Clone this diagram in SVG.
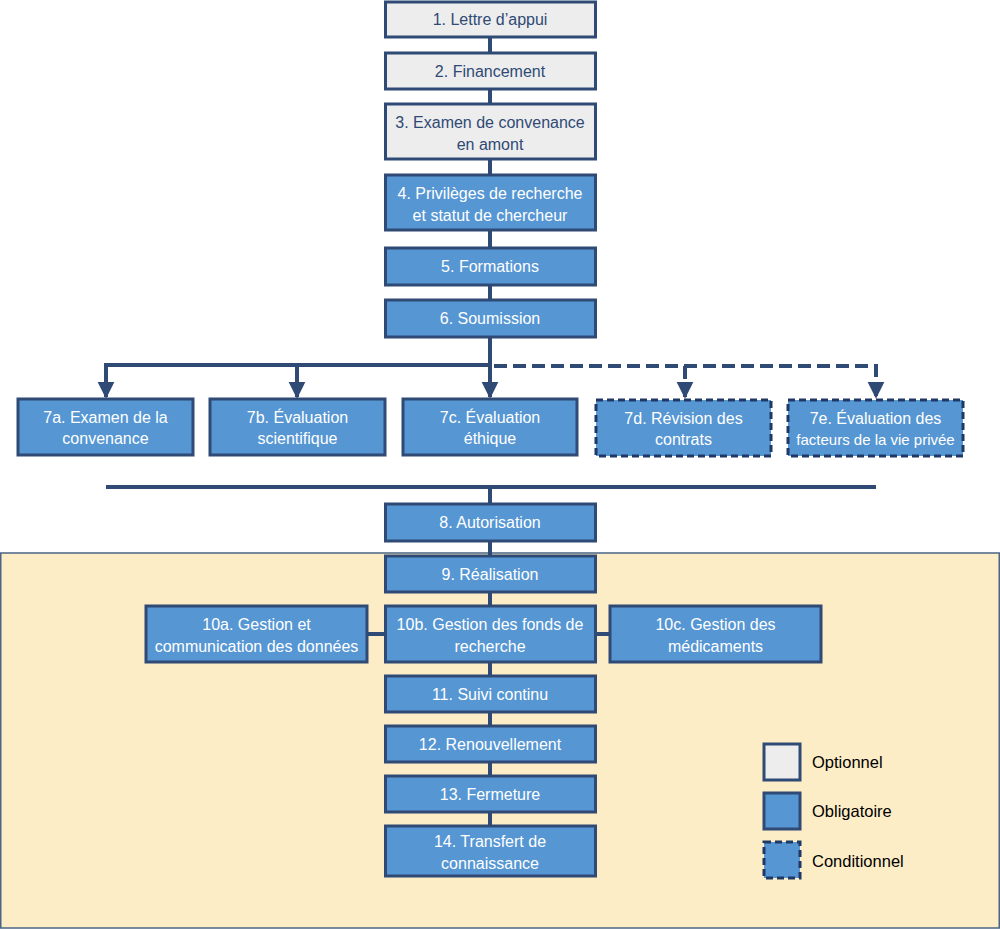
<svg xmlns="http://www.w3.org/2000/svg" width="1000" height="929" viewBox="0 0 1000 929">
<defs>
<style>
.opt{fill:#EDEDED;stroke:#2F4A75;stroke-width:3}
.obl{fill:#5696D3;stroke:#2F4A75;stroke-width:3}
.cond{fill:#5696D3;stroke:#1F3864;stroke-width:3;stroke-dasharray:7 4}
.t{font-family:"Liberation Sans",Arial,sans-serif;font-size:16px;text-anchor:middle;fill:#FFFFFF}
.to{font-family:"Liberation Sans",Arial,sans-serif;font-size:16px;text-anchor:middle;fill:#2F4A75}
.lg{font-family:"Liberation Sans",Arial,sans-serif;font-size:16.5px;fill:#000000}
.c{stroke:#2F4A75;stroke-width:4;fill:none}
.cd{stroke:#2F4A75;stroke-width:4;fill:none;stroke-dasharray:13 6}
</style>
<marker id="ah" viewBox="0 0 10 10" refX="9" refY="5" markerWidth="4.2" markerHeight="4.4" markerUnits="strokeWidth" orient="auto">
<path d="M0,0 L10,5 L0,10 Z" fill="#2F4A75"/>
</marker>
</defs>
<rect x="0.75" y="553" width="998.5" height="375" fill="#FDEDC6" stroke="#4A6585" stroke-width="1.5"/>
<g id="connectors">
<line class="c" x1="490" y1="37" x2="490" y2="53"/>
<line class="c" x1="490" y1="89" x2="490" y2="104"/>
<line class="c" x1="490" y1="159" x2="490" y2="175"/>
<line class="c" x1="490" y1="230" x2="490" y2="248"/>
<line class="c" x1="490" y1="285" x2="490" y2="300"/>
<line class="c" x1="490" y1="337" x2="490" y2="397" marker-end="url(#ah)"/>
<polyline class="c" points="490,365 106,365 106,397" marker-end="url(#ah)"/>
<line class="c" x1="297" y1="365" x2="297" y2="397" marker-end="url(#ah)"/>
<polyline class="cd" points="494,366 876,366 876,397" marker-end="url(#ah)"/>
<line class="cd" x1="685" y1="366" x2="685" y2="397" marker-end="url(#ah)"/>
<line class="c" x1="106" y1="487" x2="876" y2="487"/>
<line class="c" x1="490" y1="487" x2="490" y2="504"/>
<line class="c" x1="490" y1="541" x2="490" y2="556"/>
<line class="c" x1="490" y1="592" x2="490" y2="606"/>
<line class="c" x1="367" y1="634" x2="385" y2="634"/>
<line class="c" x1="596" y1="634" x2="610" y2="634"/>
<line class="c" x1="490" y1="662" x2="490" y2="676"/>
<line class="c" x1="490" y1="712" x2="490" y2="726"/>
<line class="c" x1="490" y1="762" x2="490" y2="776"/>
<line class="c" x1="490" y1="812" x2="490" y2="826"/>
</g>
<g id="n1"><rect class="opt" x="385.5" y="2" width="210" height="35"/><text class="to" x="490" y="25">1. Lettre d’appui</text></g>
<g id="n2"><rect class="opt" x="385.5" y="53" width="210" height="36"/><text class="to" x="490" y="77">2. Financement</text></g>
<g id="n3"><rect class="opt" x="385.5" y="104" width="210" height="55"/><text class="to" x="490" y="128">3. Examen de convenance</text><text class="to" x="490" y="150">en amont</text></g>
<g id="n4"><rect class="obl" x="385.5" y="175" width="210" height="55"/><text class="t" x="490" y="199">4. Privilèges de recherche</text><text class="t" x="490" y="221">et statut de chercheur</text></g>
<g id="n5"><rect class="obl" x="385.5" y="248" width="210" height="37"/><text class="t" x="490" y="272">5. Formations</text></g>
<g id="n6"><rect class="obl" x="385.5" y="300" width="210" height="37"/><text class="t" x="490" y="324">6. Soumission</text></g>
<g id="n7a"><rect class="obl" x="18" y="399" width="175" height="56"/><text class="t" x="105.5" y="423">7a. Examen de la</text><text class="t" x="105.5" y="444">convenance</text></g>
<g id="n7b"><rect class="obl" x="210" y="399" width="175" height="56"/><text class="t" x="297.5" y="423">7b. Évaluation</text><text class="t" x="297.5" y="444">scientifique</text></g>
<g id="n7c"><rect class="obl" x="403" y="399" width="174" height="56"/><text class="t" x="490" y="423">7c. Évaluation</text><text class="t" x="490" y="444">éthique</text></g>
<g id="n7d"><rect class="cond" x="596" y="400" width="175" height="56"/><text class="t" x="683.5" y="424">7d. Révision des</text><text class="t" x="683.5" y="445">contrats</text></g>
<g id="n7e"><rect class="cond" x="788" y="400" width="175" height="56"/><text class="t" x="875.5" y="424">7e. Évaluation des</text><text class="t" x="875.5" y="445" style="font-size:15px">facteurs de la vie privée</text></g>
<g id="n8"><rect class="obl" x="385.5" y="504" width="210" height="37"/><text class="t" x="490" y="528">8. Autorisation</text></g>
<g id="n9"><rect class="obl" x="385.5" y="556" width="210" height="36"/><text class="t" x="490" y="580">9. Réalisation</text></g>
<g id="n10a"><rect class="obl" x="146" y="606" width="221" height="56"/><text class="t" x="256.5" y="630">10a. Gestion et</text><text class="t" x="256.5" y="652">communication des données</text></g>
<g id="n10b"><rect class="obl" x="385.5" y="606" width="210" height="56"/><text class="t" x="490" y="630">10b. Gestion des fonds de</text><text class="t" x="490" y="652">recherche</text></g>
<g id="n10c"><rect class="obl" x="610" y="606" width="211" height="56"/><text class="t" x="715.5" y="630">10c. Gestion des</text><text class="t" x="715.5" y="652">médicaments</text></g>
<g id="n11"><rect class="obl" x="385.5" y="676" width="210" height="36"/><text class="t" x="490" y="700">11. Suivi continu</text></g>
<g id="n12"><rect class="obl" x="385.5" y="726" width="210" height="36"/><text class="t" x="490" y="750">12. Renouvellement</text></g>
<g id="n13"><rect class="obl" x="385.5" y="776" width="210" height="36"/><text class="t" x="490" y="800">13. Fermeture</text></g>
<g id="n14"><rect class="obl" x="385.5" y="826" width="210" height="50"/><text class="t" x="490" y="847">14. Transfert de</text><text class="t" x="490" y="869">connaissance</text></g>
<g id="legend">
<rect class="opt" x="764" y="744" width="36" height="36"/><text class="lg" x="812" y="768">Optionnel</text>
<rect class="obl" x="764" y="793" width="36" height="36"/><text class="lg" x="812" y="817">Obligatoire</text>
<rect class="cond" x="764" y="842" width="36" height="36"/><text class="lg" x="812" y="867">Conditionnel</text>
</g>
</svg>
